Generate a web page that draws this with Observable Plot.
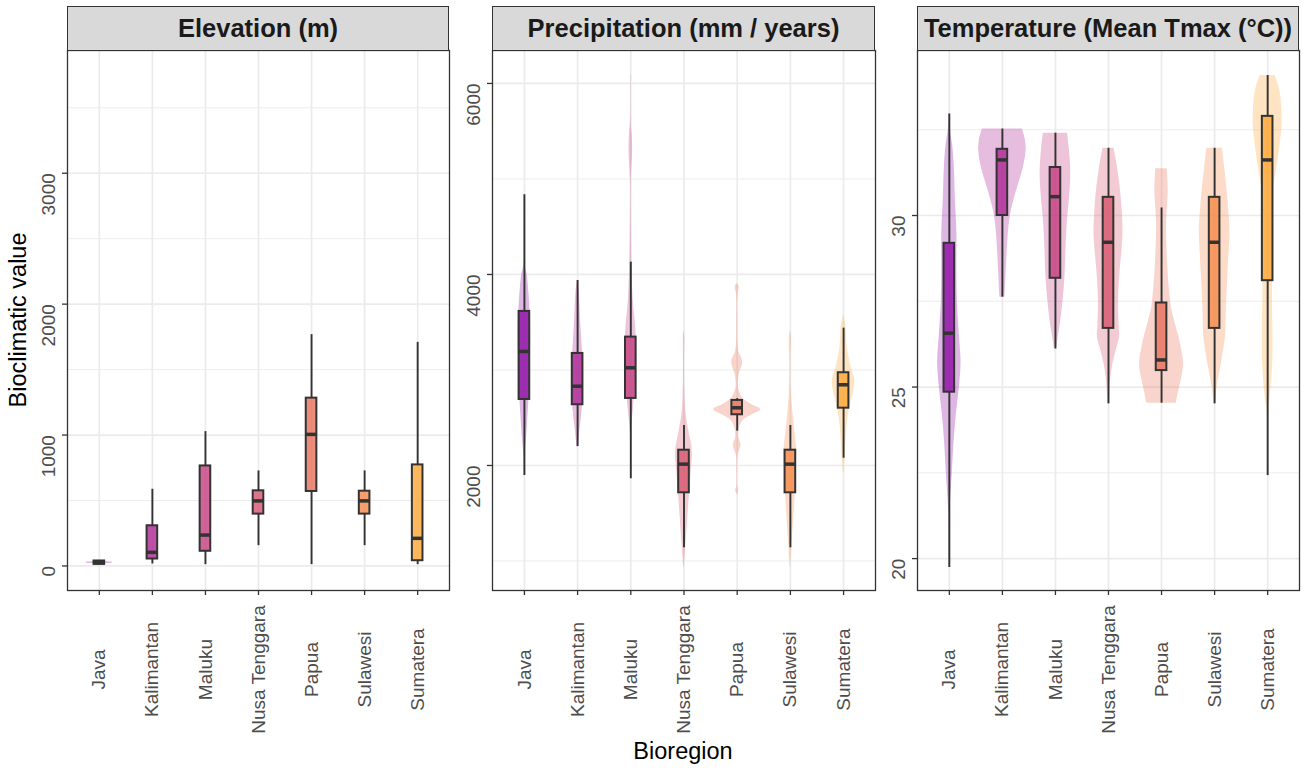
<!DOCTYPE html>
<html><head><meta charset="utf-8">
<script src="https://cdn.jsdelivr.net/npm/d3@7"></script>
<script src="https://cdn.jsdelivr.net/npm/@observablehq/plot@0.6"></script>
<style>
body{margin:0;background:#fff;}
#chart{position:relative;width:1306px;height:771px;font-family:"Liberation Sans",Arial,sans-serif;overflow:hidden;background:#fff;}
.strip{position:absolute;top:6px;height:44.5px;box-sizing:border-box;border:1.3px solid #333;background:#D9D9D9;color:#1A1A1A;font-weight:bold;font-size:25.5px;display:flex;align-items:center;justify-content:center;white-space:nowrap;}
.plot{position:absolute;top:0;}
.title{position:absolute;font-size:23.5px;color:#000;line-height:1;white-space:nowrap;}
</style></head><body><div id="chart"></div>
<script>
const regions = ["Java","Kalimantan","Maluku","Nusa Tenggara","Papua","Sulawesi","Sumatera"];
const panelTitles = ["Elevation (m)","Precipitation (mm / years)","Temperature (Mean Tmax (°C))"];

// Elevation (m): box-plot statistics per region
const elevLow  = [10, 15, 10, 155, 10, 155, 10];
const elevQ1   = [12, 53, 112, 396, 569, 396, 40];
const elevMed  = [25, 104, 236, 497, 1005, 497, 211];
const elevQ3   = [38, 307, 764, 574, 1282, 571, 772];
const elevHigh = [40, 586, 1026, 726, 1767, 726, 1708];
// violin profiles: [value, half-width in category units]
const elevViolins = [
  [[10,0.005],[18,0.15],[23,0.245],[28,0.245],[33,0.15],[40,0.005]],
  null, null, null, null, null, null
];
const elevDomain = [-187.5, 3937.5];
const elevMajor = [0, 1000, 2000, 3000];
const elevMinor = [500, 1500, 2500, 3500];

// Precipitation (mm / years)
const precLow  = [1895, 2199, 1861, 1138, 2359, 1138, 2076];
const precQ1   = [2691, 2636, 2702, 1714, 2531, 1714, 2600];
const precMed  = [3194, 2830, 3023, 2014, 2604, 2014, 2845];
const precQ3   = [3613, 3173, 3344, 2160, 2681, 2160, 2971];
const precHigh = [4835, 3937, 4129, 2419, 2700, 2419, 3438];
const precViolins = [
  [[1895,0.005],[2100,0.01],[2300,0.04],[2600,0.075],[2900,0.105],[3200,0.115],[3500,0.115],[3800,0.085],[4000,0.05],[4100,0.01],[4835,0.005]],
  [[2190,0.01],[2400,0.05],[2650,0.095],[2900,0.105],[3200,0.09],[3500,0.058],[3800,0.034],[3937,0.005]],
  [[1861,0.005],[2350,0.01],[2600,0.05],[3000,0.105],[3400,0.097],[3700,0.05],[4000,0.025],[4500,0.01],[5000,0.01],[5200,0.028],[5320,0.034],[5450,0.028],[5600,0.008],[6088,0.005]],
  [[935,0.005],[1144,0.032],[1400,0.066],[1633,0.094],[1900,0.132],[2157,0.157],[2350,0.094],[2545,0.038],[2800,0.015],[3100,0.01],[3350,0.012],[3400,0.005]],
  [[1700,0.01],[1738,0.028],[1780,0.01],[1950,0.008],[2100,0.015],[2209,0.072],[2300,0.028],[2400,0.047],[2471,0.113],[2530,0.283],[2583,0.44],[2640,0.264],[2700,0.113],[2754,0.057],[2838,0.019],[2950,0.038],[3082,0.104],[3200,0.028],[3500,0.01],[3800,0.015],[3867,0.038],[3900,0.01]],
  [[935,0.005],[1144,0.028],[1400,0.057],[1633,0.085],[1900,0.104],[2157,0.119],[2350,0.085],[2523,0.053],[2800,0.015],[3100,0.01],[3350,0.019],[3400,0.005]],
  [[1916,0.005],[2100,0.028],[2401,0.062],[2600,0.113],[2750,0.179],[2890,0.213],[3050,0.132],[3250,0.066],[3440,0.047],[3571,0.005]]
];
const precDomain = [691, 6345];
const precMajor = [2000, 4000, 6000];
const precMinor = [1000, 3000, 5000];

// Temperature (Mean Tmax, °C)
const tempLow  = [19.74, 27.62, 26.11, 24.51, 24.53, 24.51, 22.42];
const tempQ1   = [24.85, 30.0, 28.17, 26.71, 25.48, 26.71, 28.10];
const tempMed  = [26.57, 31.62, 30.55, 29.22, 25.79, 29.22, 31.62];
const tempQ3   = [29.19, 31.93, 31.40, 30.53, 27.45, 30.53, 32.89];
const tempHigh = [32.96, 32.52, 32.40, 31.96, 30.22, 31.96, 34.08];
const tempViolins = [
  [[19.74,0.005],[21.3,0.01],[22.5,0.057],[23.5,0.094],[24.2,0.132],[25,0.189],[25.7,0.221],[26.5,0.189],[27.5,0.151],[28.5,0.142],[29.5,0.142],[30.5,0.113],[31.4,0.094],[32.0,0.066],[32.5,0.02],[32.96,0.005]],
  [[27.62,0.047],[28.2,0.066],[28.8,0.085],[29.5,0.113],[30,0.151],[30.5,0.226],[30.9,0.302],[31.4,0.396],[31.9,0.447],[32.2,0.434],[32.52,0.377]],
  [[26.11,0.019],[26.5,0.057],[26.85,0.094],[27.5,0.142],[28.2,0.179],[29,0.198],[29.75,0.221],[30.5,0.264],[31.2,0.289],[31.9,0.264],[32.4,0.226]],
  [[24.51,0.01],[25.2,0.038],[25.68,0.085],[26.1,0.151],[26.45,0.208],[26.84,0.2],[27.5,0.19],[28.3,0.215],[29,0.255],[29.56,0.274],[30.2,0.255],[30.73,0.226],[31.4,0.17],[31.96,0.104]],
  [[24.53,0.277],[25.0,0.34],[25.4,0.396],[25.7,0.415],[26.1,0.377],[26.5,0.321],[26.84,0.26],[27.3,0.189],[27.8,0.151],[28.3,0.126],[29,0.104],[29.75,0.094],[30.3,0.113],[30.73,0.126],[31.36,0.109]],
  [[24.51,0.01],[25.0,0.047],[25.68,0.126],[26.45,0.204],[26.84,0.213],[27.5,0.226],[28.3,0.251],[29,0.274],[29.56,0.289],[30.2,0.264],[30.73,0.236],[31.4,0.189],[31.96,0.147]],
  [[22.42,0.005],[24.3,0.01],[24.7,0.047],[25.68,0.094],[26.45,0.1],[27.81,0.089],[29.27,0.1],[30.73,0.109],[31.2,0.151],[31.7,0.204],[32.2,0.245],[32.67,0.274],[33.2,0.264],[33.64,0.23],[34.08,0.142]]
];
const tempDomain = [19.07, 34.81];
const tempMajor = [20, 25, 30];
const tempMinor = [22.5, 27.5, 32.5];

const palette = regions.map((_, i) => d3.interpolatePlasma(0.3 + i * 0.5 / 6));
const chart = document.getElementById("chart");

function panel(cfg) {
  const stats = regions.map((r, i) => ({region: r, i, low: cfg.low[i], q1: cfg.q1[i], med: cfg.med[i], q3: cfg.q3[i], high: cfg.high[i]}));
  const vrows = cfg.violins.flatMap((prof, i) => prof ? prof.map(([v, w]) => ({region: regions[i], i, v, w})) : []);
  const idx = d3.range(regions.length);
  const p = Plot.plot({
    width: cfg.width, height: 771,
    marginLeft: cfg.mLeft, marginRight: cfg.mRight, marginTop: 50, marginBottom: 181,
    x: {domain: [-0.6, 6.6], axis: null},
    y: {domain: cfg.domain, axis: null},
    color: {domain: regions, range: palette},
    style: {fontFamily: '"Liberation Sans", Arial, sans-serif', fontSize: "19px", color: "#4D4D4D", background: "transparent", overflow: "visible"},
    marks: [
      Plot.ruleY(cfg.minor, {stroke: "#EBEBEB", strokeWidth: 0.9}),
      Plot.ruleY(cfg.major, {stroke: "#EBEBEB", strokeWidth: 1.7}),
      Plot.ruleX(idx, {stroke: "#EBEBEB", strokeWidth: 1.7}),
      Plot.areaX(vrows, {y: "v", x1: d => d.i - d.w, x2: d => d.i + d.w, z: "region", fill: "region", fillOpacity: 0.3, curve: "catmull-rom"}),
      Plot.ruleX(stats, {x: "i", y1: "low", y2: "q1", stroke: "#333", strokeWidth: 1.9}),
      Plot.ruleX(stats, {x: "i", y1: "q3", y2: "high", stroke: "#333", strokeWidth: 1.9}),
      Plot.rect(stats, {x1: d => d.i - 0.1, x2: d => d.i + 0.1, y1: "q1", y2: "q3", fill: "region", fillOpacity: 0.8, stroke: "#333", strokeWidth: 2}),
      Plot.ruleY(stats, {y: "med", x1: d => d.i - 0.1, x2: d => d.i + 0.1, stroke: "#333", strokeWidth: 3.5}),
      Plot.frame({stroke: "#333", strokeWidth: 1.3}),
      Plot.axisY({ticks: cfg.major, tickSize: 5, tickFormat: () => "", label: null, stroke: "#333", strokeWidth: 1.3}),
      Plot.axisX({ticks: idx, tickSize: 5, tickFormat: () => "", label: null, stroke: "#333", strokeWidth: 1.3}),
      Plot.text(cfg.major, {y: d => d, text: d => String(d), frameAnchor: "left", dx: -19, rotate: -90, textAnchor: "end", lineAnchor: "middle", fill: "#4D4D4D", fontSize: 19}),
      Plot.text(regions, {x: (d, i) => i, text: d => d, frameAnchor: "bottom", dy: 79, rotate: -90, textAnchor: "middle", lineAnchor: "middle", fill: "#4D4D4D", fontSize: 19})
    ]
  });
  p.classList.add("plot");
  p.style.left = cfg.left + "px";
  p.style.maxWidth = "none";
  chart.appendChild(p);
  const s = document.createElement("div");
  s.className = "strip";
  s.style.left = (cfg.left + cfg.mLeft) + "px";
  s.style.width = (cfg.width - cfg.mLeft - cfg.mRight) + "px";
  s.textContent = cfg.title;
  chart.appendChild(s);
}

panel({title: panelTitles[0], low: elevLow, q1: elevQ1, med: elevMed, q3: elevQ3, high: elevHigh, violins: elevViolins,
  domain: elevDomain, major: elevMajor, minor: elevMinor, left: 0, width: 452, mLeft: 67, mRight: 3});
panel({title: panelTitles[1], low: precLow, q1: precQ1, med: precMed, q3: precQ3, high: precHigh, violins: precViolins,
  domain: precDomain, major: precMajor, minor: precMinor, left: 452, width: 426, mLeft: 40, mRight: 3});
panel({title: panelTitles[2], low: tempLow, q1: tempQ1, med: tempMed, q3: tempQ3, high: tempHigh, violins: tempViolins,
  domain: tempDomain, major: tempMajor, minor: tempMinor, left: 878, width: 428, mLeft: 39, mRight: 7});

const yt = document.createElement("div");
yt.className = "title";
yt.textContent = "Bioclimatic value";
yt.style.left = "19px"; yt.style.top = "320px";
yt.style.transform = "translate(-50%,-50%) rotate(-90deg)";
chart.appendChild(yt);

const xt = document.createElement("div");
xt.className = "title";
xt.textContent = "Bioregion";
xt.style.left = "683px"; xt.style.top = "740px";
xt.style.transform = "translateX(-50%)";
chart.appendChild(xt);
</script>
</body></html>
